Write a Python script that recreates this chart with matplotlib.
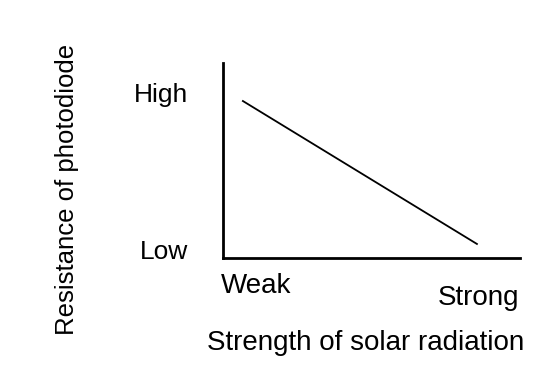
import matplotlib
matplotlib.use('Agg')
import matplotlib.pyplot as plt

# sketch of resistance vs solar radiation (qualitative)
line_x = [0.067, 0.855]
line_y = [0.805, 0.072]
ytick_pos = [0.046, 0.851]
ytick_labels = ['Low', 'High']
xlab_pos = [0.11, 0.86]
xlab_text = ['Weak', 'Strong']
xlab_base = [293, 305]  # baseline, pixels from top

plt.rcParams['font.family'] = ['Liberation Sans', 'DejaVu Sans']

W, H = 560, 368
fig = plt.figure(figsize=(W / 100, H / 100), dpi=100)
ax = fig.add_axes([223 / W, 1 - 258 / H, (520 - 223) / W, (258 - 63) / H])

ax.plot(line_x, line_y, color='black', lw=1.3)
ax.set_xlim(0, 1)
ax.set_ylim(0, 1)

for s in ['top', 'right']:
    ax.spines[s].set_visible(False)
ax.spines['left'].set_linewidth(2)
ax.spines['bottom'].set_linewidth(2)

ax.set_xticks([])
ax.set_yticks(ytick_pos, ytick_labels, fontsize=19)
ax.tick_params(axis='y', length=0, pad=25)

for x, t, yb in zip(xlab_pos, xlab_text, xlab_base):
    fig.text((223 + x * 297) / W, 1 - yb / H, t, ha='center', va='baseline', fontsize=20)

fig.text(366 / W, 1 - 350 / H, 'Strength of solar radiation', ha='center', va='baseline', fontsize=20)
fig.text(67 / W, 1 - 189 / H, 'Resistance of photodiode', ha='center', va='center',
         rotation=90, fontsize=18.5)

fig.savefig('out.png', dpi=100)
